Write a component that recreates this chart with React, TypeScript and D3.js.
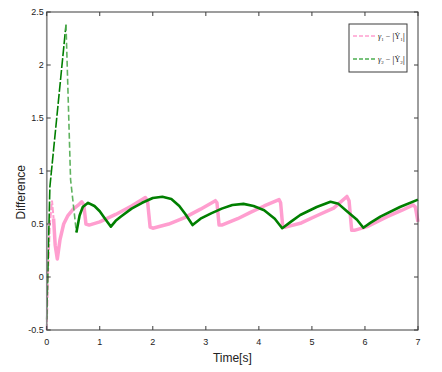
import { useEffect, useRef } from 'react'
import * as d3 from 'd3'

// gamma1 - |Y1'| (pink)
const pinkT = [0, 0.03, 0.06, 0.1, 0.13, 0.16, 0.2, 0.25, 0.32, 0.4, 0.5, 0.6, 0.66, 0.7, 0.74, 0.8, 1.0, 1.3, 1.6, 1.86, 1.9, 1.95, 2.0, 2.3, 2.6, 2.9, 3.18, 3.21, 3.25, 3.3, 3.6, 3.84, 4.1, 4.38, 4.41, 4.45, 4.5, 4.8, 5.1, 5.41, 5.66, 5.7, 5.75, 5.8, 6.04, 6.42, 6.7, 6.91, 6.95, 7.0]
const pinkV = [-0.5, 0.1, 0.5, 0.72, 0.55, 0.3, 0.17, 0.35, 0.5, 0.58, 0.64, 0.68, 0.71, 0.68, 0.5, 0.49, 0.52, 0.59, 0.67, 0.75, 0.72, 0.47, 0.46, 0.5, 0.56, 0.64, 0.72, 0.7, 0.49, 0.49, 0.55, 0.61, 0.67, 0.73, 0.7, 0.475, 0.47, 0.51, 0.58, 0.65, 0.76, 0.72, 0.44, 0.44, 0.475, 0.57, 0.63, 0.68, 0.66, 0.52]
const pinkDashedUntil = 4

// gamma2 - |Y2'| (green)
const greenT = [0, 0.06, 0.364, 0.45, 0.56, 0.62, 0.68, 0.78, 0.9, 1.0, 1.1, 1.21, 1.3, 1.4, 1.6, 1.8, 2.0, 2.18, 2.35, 2.5, 2.62, 2.75, 2.9, 3.1, 3.3, 3.5, 3.71, 3.9, 4.1, 4.3, 4.44, 4.6, 4.78, 5.09, 5.35, 5.5, 5.66, 5.85, 5.97, 6.1, 6.29, 6.66, 7.0]
const greenV = [-0.4, 0.85, 2.38, 0.92, 0.42, 0.58, 0.66, 0.7, 0.67, 0.62, 0.55, 0.475, 0.53, 0.57, 0.645, 0.7, 0.745, 0.757, 0.735, 0.67, 0.59, 0.49, 0.55, 0.6, 0.645, 0.68, 0.69, 0.67, 0.63, 0.55, 0.46, 0.52, 0.585, 0.66, 0.71, 0.69, 0.62, 0.54, 0.465, 0.51, 0.57, 0.66, 0.73]

const xTicks = [0, 1, 2, 3, 4, 5, 6, 7]
const yTicks = [-0.5, 0, 0.5, 1, 1.5, 2, 2.5]

const PINK = '#ff9ecf'
const GREEN = '#007f00'

export default function App() {
    const svgRef = useRef<SVGSVGElement>(null);

    useEffect(() => {
        if (!svgRef.current) return;
        const svg = d3.select(svgRef.current);
        svg.selectAll('*').remove();

        const width = 442;
        const height = 372;
        const margin = { top: 12, right: 24, bottom: 42, left: 46.7 };

        svg.attr('width', width).attr('height', height);

        const x = d3.scaleLinear().domain([0, 7]).range([margin.left, width - margin.right]);
        const y = d3.scaleLinear().domain([-0.5, 2.5]).range([height - margin.bottom, margin.top]);

        const line = d3.line<[number, number]>()
            .x(d => x(d[0]))
            .y(d => y(d[1]));

        const pink: [number, number][] = pinkT.map((t, i) => [t, pinkV[i]]);
        const green: [number, number][] = greenT.map((t, i) => [t, greenV[i]]);

        const plot = svg.append('g');

        // pink series
        plot.append('path')
            .attr('d', line(pink.slice(0, pinkDashedUntil + 1)))
            .attr('fill', 'none')
            .attr('stroke', PINK)
            .attr('stroke-width', 2)
            .attr('stroke-dasharray', '6,2');
        plot.append('path')
            .attr('d', line(pink.slice(pinkDashedUntil)))
            .attr('fill', 'none')
            .attr('stroke', PINK)
            .attr('stroke-width', 3.5)
            .attr('stroke-linejoin', 'round');

        // green series: spike drawn dashed
        plot.append('path')
            .attr('d', line(green.slice(0, 3)))
            .attr('fill', 'none')
            .attr('stroke', GREEN)
            .attr('stroke-width', 1.6)
            .attr('stroke-dasharray', '10,2');
        plot.append('path')
            .attr('d', line(green.slice(2, 5)))
            .attr('fill', 'none')
            .attr('stroke', '#5fb25f')
            .attr('stroke-width', 1.6)
            .attr('stroke-dasharray', '6,3');
        plot.append('path')
            .attr('d', line(green.slice(4)))
            .attr('fill', 'none')
            .attr('stroke', GREEN)
            .attr('stroke-width', 2.6)
            .attr('stroke-linejoin', 'round');

        // box
        const [x0, x1] = x.range();
        const [y0, y1] = y.range();
        svg.append('rect')
            .attr('x', x0)
            .attr('y', y1)
            .attr('width', x1 - x0)
            .attr('height', y0 - y1)
            .attr('fill', 'none')
            .attr('stroke', '#3c3c3c')
            .attr('stroke-width', 1);
        svg.append('line')
            .attr('x1', x0).attr('x2', x0)
            .attr('y1', y1).attr('y2', y0)
            .attr('stroke', '#8a8a8a')
            .attr('stroke-width', 1.5);

        const tickLen = 4;
        xTicks.forEach(t => {
            svg.append('line')
                .attr('x1', x(t)).attr('x2', x(t))
                .attr('y1', y0).attr('y2', y0 - tickLen)
                .attr('stroke', '#3c3c3c');
            svg.append('line')
                .attr('x1', x(t)).attr('x2', x(t))
                .attr('y1', y1).attr('y2', y1 + tickLen)
                .attr('stroke', '#3c3c3c');
            svg.append('text')
                .attr('x', x(t))
                .attr('y', y0 + 15)
                .attr('text-anchor', 'middle')
                .attr('font-family', 'Liberation Sans, Arial, sans-serif')
                .attr('font-size', '9px')
                .attr('fill', '#222')
                .text(t);
        });
        yTicks.forEach(t => {
            svg.append('line')
                .attr('x1', x0).attr('x2', x0 + tickLen)
                .attr('y1', y(t)).attr('y2', y(t))
                .attr('stroke', '#3c3c3c');
            svg.append('line')
                .attr('x1', x1).attr('x2', x1 - tickLen)
                .attr('y1', y(t)).attr('y2', y(t))
                .attr('stroke', '#3c3c3c');
            svg.append('text')
                .attr('x', x0 - 3)
                .attr('y', y(t) + 3)
                .attr('text-anchor', 'end')
                .attr('font-family', 'Liberation Sans, Arial, sans-serif')
                .attr('font-size', '9px')
                .attr('fill', '#222')
                .text(t);
        });

        svg.append('text')
            .attr('x', (x0 + x1) / 2)
            .attr('y', y0 + 32)
            .attr('text-anchor', 'middle')
            .attr('font-family', 'Liberation Sans, Arial, sans-serif')
            .attr('font-size', '12px')
            .attr('fill', '#222')
            .text('Time[s]');
        svg.append('text')
            .attr('transform', `translate(25,${y(0.8)}) rotate(-90)`)
            .attr('text-anchor', 'middle')
            .attr('font-family', 'Liberation Sans, Arial, sans-serif')
            .attr('font-size', '12px')
            .attr('fill', '#222')
            .text('Difference');

        // legend
        const legend = svg.append('g').attr('transform', 'translate(349,24)');
        legend.append('rect')
            .attr('width', 58)
            .attr('height', 48)
            .attr('fill', '#fff')
            .attr('stroke', '#3c3c3c');
        const entries = [
            { color: PINK, idx: '1', yy: 12 },
            { color: '#4caf50', idx: '2', yy: 35 },
        ];
        entries.forEach(e => {
            legend.append('line')
                .attr('x1', 4).attr('x2', 26)
                .attr('y1', e.yy).attr('y2', e.yy)
                .attr('stroke', e.color)
                .attr('stroke-width', 1.5)
                .attr('stroke-dasharray', '4,2');
            const txt = legend.append('text')
                .attr('x', 29)
                .attr('y', e.yy + 3)
                .attr('font-family', 'Liberation Serif, Times New Roman, serif')
                .attr('font-size', '8px')
                .attr('fill', '#222');
            txt.append('tspan').attr('font-style', 'italic').text('γ');
            txt.append('tspan').attr('font-size', '5px').attr('dy', 2).text(e.idx);
            txt.append('tspan').attr('dy', -2).text(' − ');
            txt.append('tspan').attr('font-size', '11px').attr('dy', 1).text('|');
            txt.append('tspan').attr('dy', -1).text('Ẏ');
            txt.append('tspan').attr('font-size', '5px').attr('dy', 2).text(e.idx);
            txt.append('tspan').attr('font-size', '11px').attr('dy', -1).text('|');
        });
    }, []);

    return <svg ref={svgRef} style={{ position: 'absolute', left: 0, top: 0 }} />;
}
